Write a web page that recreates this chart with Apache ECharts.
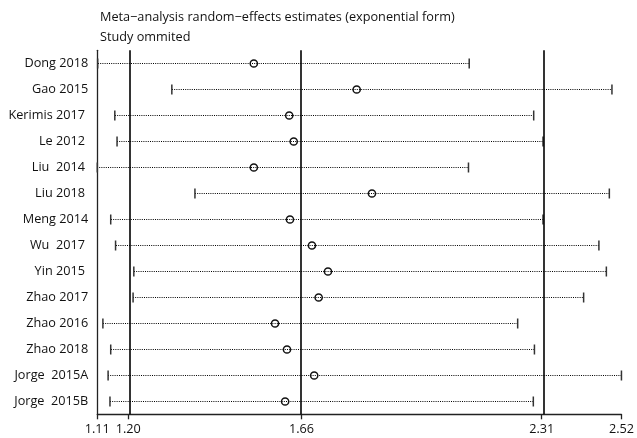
<!DOCTYPE html>
<html>
<head>
<meta charset="utf-8">
<script src="https://cdn.jsdelivr.net/npm/echarts@6/dist/echarts.min.js"></script>
<style>html,body{margin:0;padding:0;background:#fff}#c{width:637px;height:438px}</style>
</head>
<body>
<div id="c"></div>
<script>
var studies = ["Dong 2018", "Gao 2015", "Kerimis 2017 ", "Le 2012 ", "Liu  2014 ", "Liu 2018 ", "Meng 2014", "Wu  2017 ", "Yin 2015 ", "Zhao 2017", "Zhao 2016", "Zhao 2018", "Jorge  2015A", "Jorge  2015B"];
var lower = [1.114, 1.313, 1.160, 1.166, 1.113, 1.375, 1.149, 1.162, 1.211, 1.209, 1.128, 1.149, 1.142, 1.147];
var estimate = [1.533, 1.809, 1.628, 1.640, 1.533, 1.850, 1.630, 1.689, 1.732, 1.707, 1.590, 1.622, 1.695, 1.617];
var upper = [2.111, 2.494, 2.284, 2.309, 2.109, 2.487, 2.309, 2.459, 2.479, 2.418, 2.241, 2.286, 2.5195, 2.283];
var tickValues = [1.113, 1.196, 1.661, 2.3055, 2.5195];
var tickLabels = ["1.11", "1.20", "1.66", "2.31", "2.52"];
var refLines = [1.196, 1.661, 2.3055];
var titleText = "Meta\u2212analysis random\u2212effects estimates (exponential form)\nStudy ommited";

var FONT = "'Open Sans', 'Noto Sans', sans-serif";
var FS = 12.7;
var chart = echarts.init(document.getElementById('c'), null, {renderer: 'canvas'});
var data = studies.map(function (s, i) { return [i, lower[i], estimate[i], upper[i]]; });

chart.setOption({
  animation: false,
  backgroundColor: '#fff',
  title: {
    text: titleText,
    left: 100, top: 7, padding: 0,
    textStyle: {fontFamily: FONT, fontSize: FS, fontWeight: 'normal', color: '#111', lineHeight: 20}
  },
  grid: {left: 97.3, right: 15, top: 50.3, bottom: 23.7, containLabel: false},
  xAxis: {
    type: 'value',
    min: tickValues[0], max: tickValues[tickValues.length - 1],
    axisLine: {show: true, onZero: false, lineStyle: {color: '#222', width: 1.3}},
    axisTick: {show: true, length: 5, customValues: tickValues, lineStyle: {color: '#222', width: 1.3}},
    axisLabel: {
      show: true, margin: 9, customValues: tickValues,
      fontFamily: FONT, fontSize: FS, color: '#111',
      formatter: function (v) {
        for (var i = 0; i < tickValues.length; i++) if (Math.abs(tickValues[i] - v) < 1e-6) return tickLabels[i];
        return '';
      }
    },
    splitLine: {show: false}
  },
  yAxis: {
    type: 'category',
    data: studies,
    inverse: true,
    axisLine: {show: true, onZero: false, lineStyle: {color: '#222', width: 1.3}},
    axisTick: {show: false},
    axisLabel: {margin: 9, fontFamily: FONT, fontSize: FS, color: '#111'},
    splitLine: {show: false}
  },
  series: [{
    type: 'custom',
    data: data,
    encode: {x: [1, 2, 3], y: 0},
    clip: false,
    renderItem: function (params, api) {
      var y = api.value(0);
      var pL = api.coord([api.value(1), y]);
      var pE = api.coord([api.value(2), y]);
      var pH = api.coord([api.value(3), y]);
      var yy = Math.round(pL[1]) + 0.5;
      var capH = 5;
      return {
        type: 'group',
        children: [
          {type: 'line', shape: {x1: Math.round(pL[0]), y1: yy, x2: pH[0], y2: yy},
           style: {stroke: '#000', lineWidth: 1, lineDash: [1, 1.2]}},
          {type: 'line', shape: {x1: pL[0], y1: yy - capH, x2: pL[0], y2: yy + capH},
           style: {stroke: '#333', lineWidth: 1.5}},
          {type: 'line', shape: {x1: pH[0], y1: yy - capH, x2: pH[0], y2: yy + capH},
           style: {stroke: '#333', lineWidth: 1.5}},
          {type: 'circle', shape: {cx: pE[0], cy: yy, r: 3.6},
           style: {fill: null, stroke: '#111', lineWidth: 1.5}}
        ]
      };
    },
    markLine: {
      silent: true,
      symbol: 'none',
      label: {show: false},
      lineStyle: {type: 'solid', color: '#000', width: 1.6},
      data: refLines.map(function (v) { return {xAxis: v}; })
    }
  }]
});
</script>
</body>
</html>
